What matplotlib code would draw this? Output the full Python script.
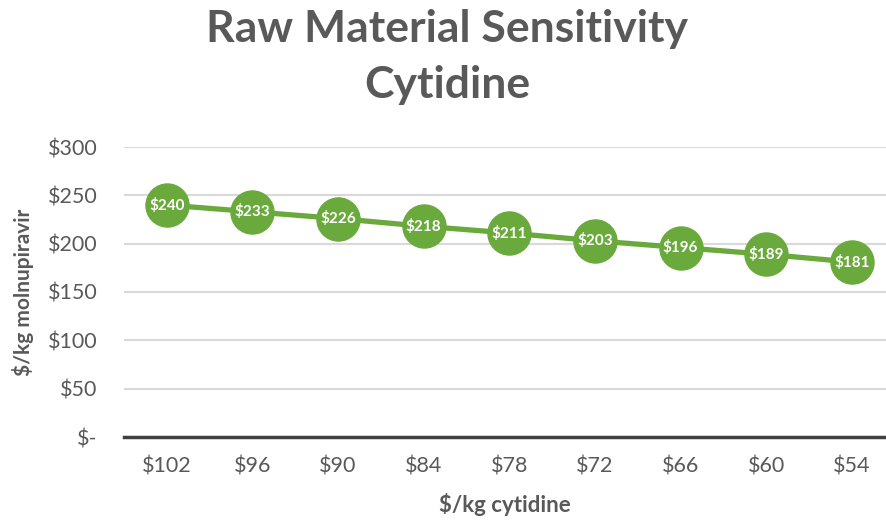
import matplotlib.pyplot as plt

cytidine_price = ['$102', '$96', '$90', '$84', '$78', '$72', '$66', '$60', '$54']
molnupiravir_cost = [240, 233, 226, 218, 211, 203, 196, 189, 181]
y_ticks = [0, 50, 100, 150, 200, 250, 300]
y_tick_labels = ['$-', '$50', '$100', '$150', '$200', '$250', '$300']

plt.rcParams['font.family'] = ['Lato', 'DejaVu Sans']
green = '#6aaa3c'
grey = '#595959'

fig = plt.figure(figsize=(8.86, 5.21), dpi=100)
ax = fig.add_axes([124/886, 1-437/521, 1-124/886, (437-147)/521])

x = list(range(len(cytidine_price)))
ax.plot(x, molnupiravir_cost, color=green, lw=3.8, marker='o', ms=31,
        markerfacecolor=green, markeredgecolor=green, zorder=3, clip_on=False)
for xi, v in zip(x, molnupiravir_cost):
    ax.text(xi, v, '$%d' % v, ha='center', va='center', color='white',
            fontsize=11, fontweight='bold', zorder=4)

ax.set_xlim(-0.5, 8.4)
ax.set_ylim(0, 300)
ax.set_yticks(y_ticks)
ax.set_yticklabels(y_tick_labels)
ax.set_xticks(x)
ax.set_xticklabels(cytidine_price)
ax.tick_params(axis='both', length=0, labelsize=15.5, labelcolor=grey)
ax.tick_params(axis='y', pad=19)
ax.tick_params(axis='x', pad=14)
ax.grid(axis='y', color='#d9d9d9', lw=1.5)
ax.set_axisbelow(True)
for s in ['top', 'right', 'left']:
    ax.spines[s].set_visible(False)
ax.spines['bottom'].set_color('#404040')
ax.spines['bottom'].set_linewidth(2.5)
ax.spines['bottom'].set_zorder(2)

ax.set_xlabel('$/kg cytidine', fontsize=16, fontweight='bold', color=grey, labelpad=12)
ax.set_ylabel('$/kg molnupiravir', fontsize=15, fontweight='bold', color=grey, labelpad=10)

fig.text(0.505, 0.983, 'Raw Material Sensitivity\nCytidine', ha='center', va='top',
         fontsize=32, fontweight='bold', color=grey, linespacing=1.5)

fig.savefig('out.png', dpi=100)
